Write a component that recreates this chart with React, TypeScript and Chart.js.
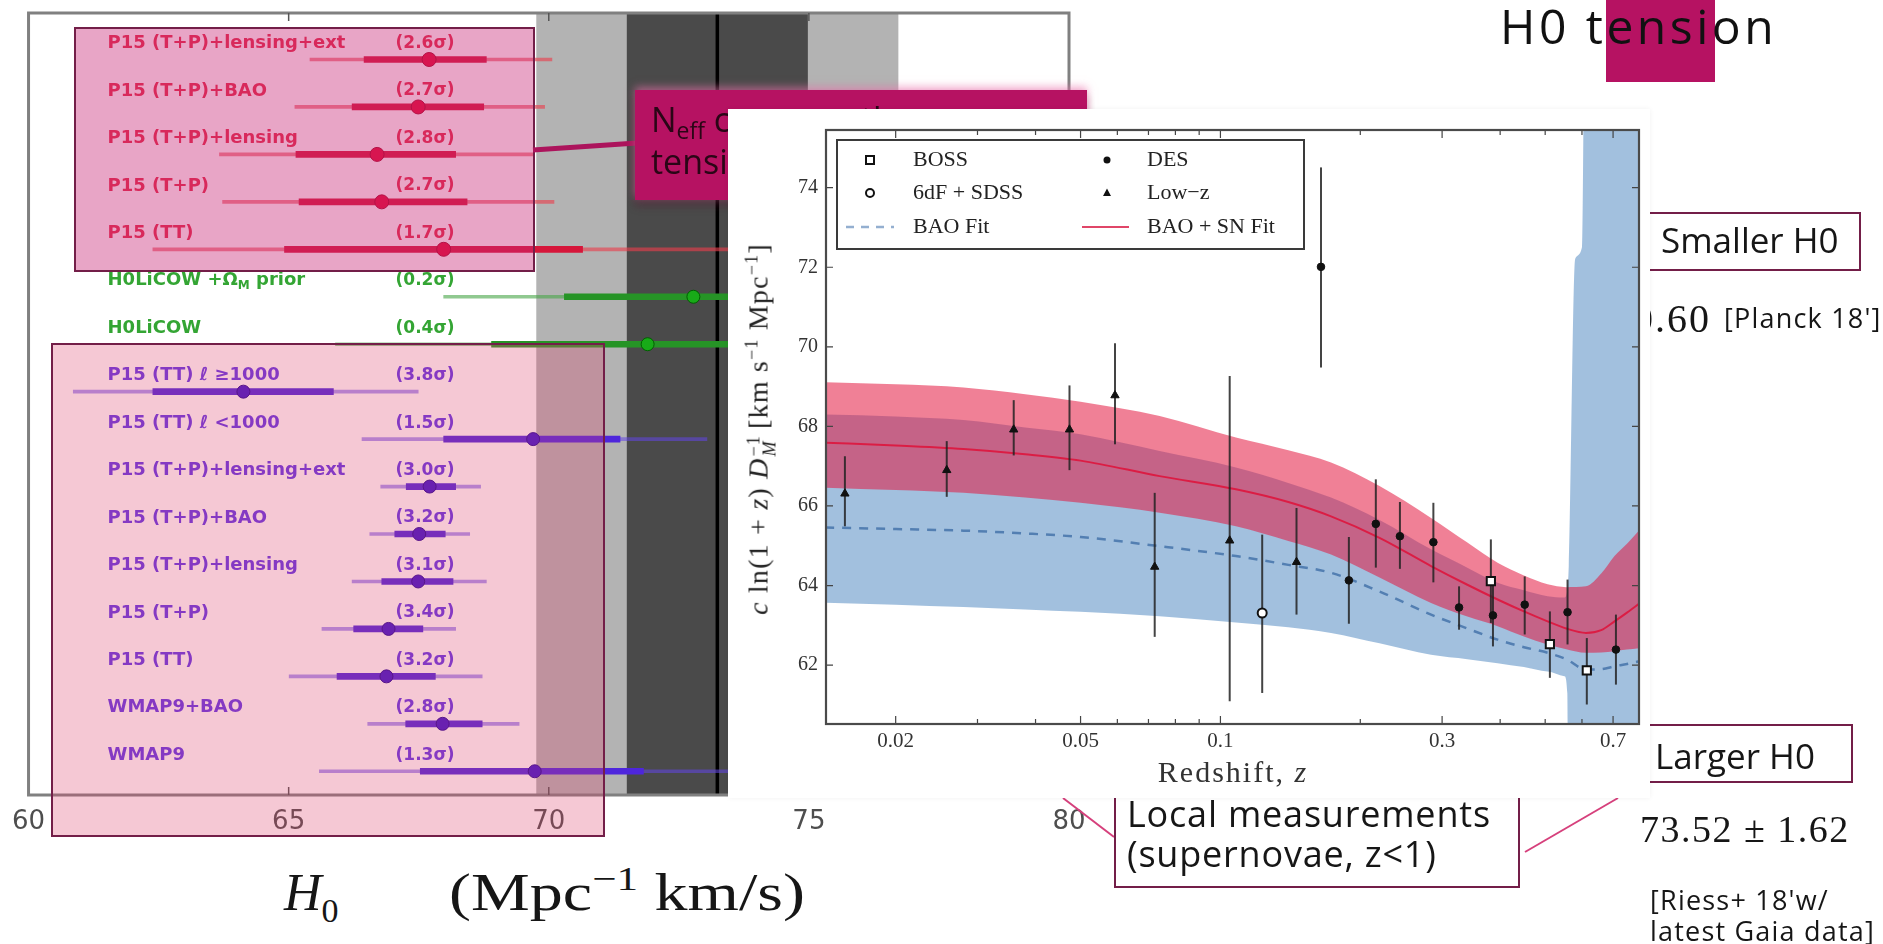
import React, { useEffect, useRef } from 'react';
import { Chart, registerables } from 'chart.js';

Chart.register(...registerables);

/* ================= Left panel: H0 measurements ================= */
const ROW_LABELS = [
  'P15 (T+P)+lensing+ext', 'P15 (T+P)+BAO', 'P15 (T+P)+lensing', 'P15 (T+P)', 'P15 (TT)',
  'H0LiCOW +Ω_M prior', 'H0LiCOW',
  'P15 (TT) ℓ ≥1000', 'P15 (TT) ℓ <1000', 'P15 (T+P)+lensing+ext', 'P15 (T+P)+BAO',
  'P15 (T+P)+lensing', 'P15 (T+P)', 'P15 (TT)', 'WMAP9+BAO', 'WMAP9',
];
const ROW_TENSION = ['(2.6σ)', '(2.7σ)', '(2.8σ)', '(2.7σ)', '(1.7σ)', '(0.2σ)', '(0.4σ)', '(3.8σ)',
  '(1.5σ)', '(3.0σ)', '(3.2σ)', '(3.1σ)', '(3.4σ)', '(3.2σ)', '(2.8σ)', '(1.3σ)'];
const ROW_GROUP = ['red', 'red', 'red', 'red', 'red', 'green', 'green',
  'blue', 'blue', 'blue', 'blue', 'blue', 'blue', 'blue', 'blue', 'blue'];
const ROW_POSITION = [15.5, 14.5, 13.5, 12.5, 11.5, 10.5, 9.5, 8.5, 7.5, 6.5, 5.5, 4.5, 3.5, 2.5, 1.5, 0.5];
const ROW_CENTER = [67.70, 67.49, 66.70, 66.79, 67.98, 72.78, 71.90, 64.13, 69.70, 67.71, 67.51, 67.49, 66.92, 66.88, 67.96, 69.73];
const ROW_INNER_LO = [66.45, 66.22, 65.14, 65.20, 64.92, 70.30, 68.90, 62.39, 67.98, 67.26, 67.04, 66.79, 66.25, 65.93, 67.25, 67.53];
const ROW_INNER_HI = [68.80, 68.75, 68.21, 68.43, 70.65, 75.00, 74.90, 65.86, 71.37, 68.21, 68.01, 68.16, 67.58, 67.82, 68.72, 71.82];
const ROW_OUTER_LO = [65.41, 65.12, 63.67, 63.73, 62.39, 67.98, 65.90, 60.86, 66.41, 66.77, 66.56, 66.22, 65.64, 65.01, 66.52, 65.59];
const ROW_OUTER_HI = [70.06, 69.92, 69.72, 70.10, 73.60, 77.60, 77.90, 67.49, 73.04, 68.69, 68.48, 68.80, 68.21, 68.72, 69.43, 74.00];
const H0_TICKS = [60, 65, 70, 75, 80];
const LOCAL_H0 = [73.24];
const LOCAL_H0_SIGMA = [1.74];

/* ================= Right panel: inverse distance ladder ================= */
const FIT_Z = [0.0141, 0.02, 0.028, 0.038, 0.05, 0.074, 0.108, 0.14, 0.173, 0.22, 0.284, 0.34, 0.395, 0.45, 0.506, 0.555, 0.612, 0.66, 0.705, 0.75, 0.8];
const SN_FIT = [67.59, 67.52, 67.43, 67.30, 67.14, 66.75, 66.42, 66.10, 65.74, 65.20, 64.49, 64.02, 63.65, 63.35, 63.10, 62.92, 62.81, 62.88, 63.10, 63.32, 63.56];
const SN_FIT_HI = [69.11, 69.06, 68.98, 68.81, 68.62, 68.26, 67.72, 67.40, 67.09, 66.50, 65.70, 65.08, 64.57, 64.25, 64.03, 63.96, 63.98, 64.30, 64.74, 65.05, 65.41];
const SN_FIT_LO = [66.46, 66.40, 66.33, 66.21, 66.08, 65.83, 65.49, 65.12, 64.78, 64.20, 63.56, 63.22, 62.98, 62.72, 62.52, 62.40, 62.31, 62.32, 62.35, 62.39, 62.43];
const BAO_FIT = [65.46, 65.42, 65.38, 65.31, 65.22, 64.99, 64.74, 64.52, 64.32, 63.85, 63.27, 62.92, 62.64, 62.45, 62.31, 62.15, 61.89, 61.90, 61.97, 62.03, 62.10];
const BAO_BAND_Z = [0.0141, 0.02, 0.028, 0.038, 0.05, 0.074, 0.108, 0.14, 0.173, 0.22, 0.284, 0.34, 0.395, 0.45, 0.506, 0.55, 0.558, 0.562, 0.58, 0.60, 0.61, 0.70, 0.80];
const BAO_BAND_HI = [68.30, 68.25, 68.16, 67.97, 67.80, 67.38, 66.97, 66.58, 66.21, 65.65, 64.91, 64.45, 64.07, 63.88, 63.73, 63.70, 63.90, 64.50, 72.20, 72.50, 80, 80, 80];
const BAO_BAND_LO = [63.57, 63.52, 63.46, 63.40, 63.34, 63.23, 63.07, 62.95, 62.81, 62.55, 62.26, 62.15, 62.05, 61.95, 61.84, 61.72, 61.30, 55, 55, 55, 55, 55, 55];

const LOWZ_Z = [0.01555, 0.02576, 0.0359, 0.04733, 0.0593, 0.0722, 0.1047, 0.1458];
const LOWZ_V = [66.31, 66.90, 67.92, 67.92, 68.78, 64.47, 65.13, 64.59];
const LOWZ_HI = [67.25, 67.63, 68.66, 69.03, 70.09, 66.33, 69.27, 65.95];
const LOWZ_LO = [65.49, 66.23, 67.27, 66.90, 67.55, 62.71, 61.09, 63.27];
const DES_Z = [0.1646, 0.189, 0.216, 0.2434, 0.2873, 0.3263, 0.386, 0.4518, 0.5586, 0.710];
const DES_V = [72.01, 64.13, 65.55, 65.24, 65.09, 63.45, 63.25, 63.52, 63.33, 62.39];
const DES_HI = [74.51, 65.22, 66.67, 66.10, 66.08, 63.98, 64.05, 64.23, 64.15, 63.27];
const DES_LO = [69.48, 63.04, 64.45, 64.42, 64.08, 62.89, 62.47, 62.77, 62.52, 61.51];
const BOSS_Z = [0.382, 0.5118, 0.6146];
const BOSS_V = [64.11, 62.53, 61.87];
const BOSS_HI = [65.16, 63.35, 62.68];
const BOSS_LO = [63.06, 61.68, 61.01];
const SDSS_Z = [0.123];
const SDSS_V = [63.31];
const SDSS_HI = [65.28];
const SDSS_LO = [61.30];

const Z_TICKS = [0.02, 0.03, 0.04, 0.05, 0.06, 0.07, 0.08, 0.09, 0.1, 0.2, 0.3, 0.4, 0.5, 0.6, 0.7];
const Z_TICK_LABELS = ['0.02', '', '', '0.05', '', '', '', '', '0.1', '', '0.3', '', '', '', '0.7'];
const Y_TICKS = [62, 64, 66, 68, 70, 72, 74];

/* ================= styles ================= */
const SANS = '"Open Sans", "DejaVu Sans", sans-serif';
const SERIF = '"Liberation Serif", "DejaVu Serif", serif';
const GROUP_COLORS: Record<string, any> = {
  red: { text: 'rgb(228,42,72)', thin: 'rgba(234,62,76,0.62)', thick: 'rgb(214,22,58)', dot: 'rgb(226,8,52)', edge: 'rgb(165,0,35)' },
  green: { text: 'rgb(52,165,52)', thin: 'rgba(70,165,70,0.6)', thick: 'rgb(38,148,38)', dot: 'rgb(24,170,24)', edge: 'rgb(0,95,0)' },
  blue: { text: 'rgb(98,54,232)', thin: 'rgba(98,70,232,0.55)', thick: 'rgb(78,38,220)', dot: 'rgb(58,20,205)', edge: 'rgb(35,5,150)' },
};
const MAGENTA = 'rgb(182,18,98)';
const BOX_BORDER = 'rgb(115,30,72)';

const pts = (xs: number[], ys: number[]) => xs.map((x, i) => ({ x, y: ys[i] }));

/* ---------------- Left chart plugins ---------------- */
const leftBands = {
  id: 'leftBands',
  beforeDatasetsDraw(chart: any) {
    const { ctx, chartArea: a, scales } = chart;
    const x = scales.x;
    const c = LOCAL_H0[0];
    const s = LOCAL_H0_SIGMA[0];
    const px = (v: number) => x.getPixelForValue(v);
    ctx.save();
    ctx.fillStyle = '#b3b3b3';
    ctx.fillRect(px(c - 2 * s), a.top, px(c + 2 * s) - px(c - 2 * s), a.bottom - a.top);
    ctx.fillStyle = '#4a4a4a';
    ctx.fillRect(px(c - s), a.top, px(c + s) - px(c - s), a.bottom - a.top);
    ctx.strokeStyle = '#000';
    ctx.lineWidth = 3.5;
    ctx.beginPath();
    ctx.moveTo(px(c), a.top);
    ctx.lineTo(px(c), a.bottom);
    ctx.stroke();
    ctx.restore();
  },
};

function drawRich(ctx: CanvasRenderingContext2D, text: string, x: number, y: number, size: number) {
  const parts = text.split(/(_.)/);
  let cx = x;
  for (const p of parts) {
    if (!p) continue;
    if (p.length === 2 && p[0] === '_') {
      ctx.font = `bold ${Math.round(size * 0.68)}px "DejaVu Sans"`;
      ctx.fillText(p[1], cx, y + size * 0.3);
      cx += ctx.measureText(p[1]).width;
    } else {
      ctx.font = `bold ${size}px "DejaVu Sans"`;
      ctx.fillText(p, cx, y);
      cx += ctx.measureText(p).width;
    }
  }
}

const leftDecor = {
  id: 'leftDecor',
  afterDatasetsDraw(chart: any) {
    const { ctx, chartArea: a, scales } = chart;
    const x = scales.x;
    const y = scales.y;
    ctx.save();
    ctx.textBaseline = 'middle';
    ROW_LABELS.forEach((lab, i) => {
      const yy = y.getPixelForValue(ROW_POSITION[i]) - 16;
      ctx.fillStyle = GROUP_COLORS[ROW_GROUP[i]].text;
      drawRich(ctx, lab, a.left + 79, yy, 18);
      ctx.font = 'bold 17px "DejaVu Sans"';
      ctx.fillText(ROW_TENSION[i], a.left + 367, yy);
    });
    ctx.strokeStyle = '#808080';
    ctx.lineWidth = 3;
    ctx.strokeRect(a.left, a.top, a.right - a.left, a.bottom - a.top);
    ctx.strokeStyle = '#555';
    ctx.lineWidth = 1.5;
    H0_TICKS.slice(1, -1).forEach((v) => {
      const px = x.getPixelForValue(v);
      ctx.beginPath();
      ctx.moveTo(px, a.top);
      ctx.lineTo(px, a.top + 8);
      ctx.moveTo(px, a.bottom);
      ctx.lineTo(px, a.bottom - 8);
      ctx.stroke();
    });
    ctx.restore();
  },
};

function LeftChart() {
  const ref = useRef<HTMLCanvasElement>(null);
  useEffect(() => {
    const canvas = ref.current as HTMLCanvasElement;
    const idx = ROW_LABELS.map((_, i) => i);
    const col = (k: string) => idx.map((i) => GROUP_COLORS[ROW_GROUP[i]][k]);
    const chart = new Chart(canvas, {
      type: 'bar',
      data: {
        datasets: [
          {
            type: 'bar', indexAxis: 'y', grouped: false, barThickness: 3, maxBarThickness: 3,
            data: idx.map((i) => ({ x: [ROW_OUTER_LO[i], ROW_OUTER_HI[i]], y: ROW_POSITION[i] })),
            backgroundColor: col('thin'), borderWidth: 0, order: 3,
          } as any,
          {
            type: 'bar', indexAxis: 'y', grouped: false, barThickness: 6, maxBarThickness: 6,
            data: idx.map((i) => ({ x: [ROW_INNER_LO[i], ROW_INNER_HI[i]], y: ROW_POSITION[i] })),
            backgroundColor: col('thick'), borderWidth: 0, order: 2,
          } as any,
          {
            type: 'scatter',
            data: idx.map((i) => ({ x: ROW_CENTER[i], y: ROW_POSITION[i] })),
            backgroundColor: col('dot'), borderColor: col('edge'), borderWidth: 1,
            pointRadius: idx.map((i) => (ROW_GROUP[i] === 'red' ? 7 : 6.5)), order: 1,
          } as any,
        ],
      },
      options: {
        responsive: false, animation: false, devicePixelRatio: 1, events: [],
        layout: { padding: { left: 25, top: 13, right: 41, bottom: 0 } },
        plugins: { legend: { display: false }, tooltip: { enabled: false } },
        scales: {
          x: {
            type: 'linear', min: 60, max: 80, offset: false,
            afterBuildTicks: (s: any) => { s.ticks = H0_TICKS.map((v) => ({ value: v })); },
            afterFit: (s: any) => { s.height = 43; },
            grid: { display: false, drawTicks: false, offset: false }, border: { display: false },
            ticks: { font: { family: 'DejaVu Sans', size: 26 }, color: '#4e4e4e', padding: 12, maxRotation: 0, autoSkip: false },
          },
          y: { type: 'linear', min: 0, max: 16.48, display: false, offset: false, grid: { offset: false } },
        },
      } as any,
      plugins: [leftBands, leftDecor],
    });
    return () => chart.destroy();
  }, []);
  return <canvas ref={ref} width={1110} height={838} style={{ position: 'absolute', left: 0, top: 0, width: 1110, height: 838, zIndex: 1 }} />;
}

/* ---------------- Right chart plugins ---------------- */
const ERR_SERIES = [
  [LOWZ_Z, LOWZ_LO, LOWZ_HI], [DES_Z, DES_LO, DES_HI], [BOSS_Z, BOSS_LO, BOSS_HI], [SDSS_Z, SDSS_LO, SDSS_HI],
];
const SOLID_FIT_INDEX = 5;

const errorBars = {
  id: 'errorBars',
  afterDatasetDraw(chart: any, args: any) {
    if (args.index !== SOLID_FIT_INDEX) return;
    const { ctx, scales } = chart;
    ctx.save();
    ctx.strokeStyle = 'rgba(35,35,35,0.85)';
    ctx.lineWidth = 2;
    ERR_SERIES.forEach(([zs, lo, hi]) => {
      zs.forEach((z, i) => {
        const px = scales.x.getPixelForValue(z);
        ctx.beginPath();
        ctx.moveTo(px, scales.y.getPixelForValue(lo[i]));
        ctx.lineTo(px, scales.y.getPixelForValue(hi[i]));
        ctx.stroke();
      });
    });
    ctx.restore();
  },
};

const baoFrame = {
  id: 'baoFrame',
  afterDatasetsDraw(chart: any) {
    const { ctx, chartArea: a, scales } = chart;
    ctx.save();
    ctx.strokeStyle = '#444';
    ctx.lineWidth = 1.2;
    Z_TICKS.forEach((v, i) => {
      const px = scales.x.getPixelForValue(v);
      const len = Z_TICK_LABELS[i] ? 8 : 5;
      ctx.beginPath();
      ctx.moveTo(px, a.bottom); ctx.lineTo(px, a.bottom - len);
      ctx.moveTo(px, a.top); ctx.lineTo(px, a.top + len);
      ctx.stroke();
    });
    Y_TICKS.forEach((v) => {
      const py = scales.y.getPixelForValue(v);
      ctx.beginPath();
      ctx.moveTo(a.left, py); ctx.lineTo(a.left + 7, py);
      ctx.moveTo(a.right, py); ctx.lineTo(a.right - 7, py);
      ctx.stroke();
    });
    ctx.strokeStyle = '#4a4a4a';
    ctx.lineWidth = 2.2;
    ctx.strokeRect(a.left, a.top, a.right - a.left, a.bottom - a.top);
    ctx.restore();
  },
};

const baoLegend = {
  id: 'baoLegend',
  afterDraw(chart: any) {
    const ctx = chart.ctx as CanvasRenderingContext2D;
    const L = 109, T = 31, W = 467, H = 109;
    ctx.save();
    ctx.fillStyle = '#fff';
    ctx.fillRect(L, T, W, H);
    ctx.strokeStyle = '#3a3a3a';
    ctx.lineWidth = 2;
    ctx.strokeRect(L, T, W, H);
    const r1 = T + 20, r2 = T + 53, r3 = T + 87;
    const mx1 = L + 33, mx2 = L + 270, tx1 = L + 76, tx2 = L + 310;
    ctx.fillStyle = '#fff';
    ctx.strokeStyle = '#111';
    ctx.lineWidth = 2;
    ctx.fillRect(mx1 - 4, r1 - 4, 8, 8); ctx.strokeRect(mx1 - 4, r1 - 4, 8, 8);
    ctx.beginPath(); ctx.arc(mx1, r2, 4, 0, Math.PI * 2); ctx.fill(); ctx.stroke();
    ctx.fillStyle = '#111';
    ctx.beginPath(); ctx.arc(mx2, r1, 3.5, 0, Math.PI * 2); ctx.fill();
    ctx.beginPath(); ctx.moveTo(mx2, r2 - 4.5); ctx.lineTo(mx2 + 4, r2 + 3); ctx.lineTo(mx2 - 4, r2 + 3); ctx.closePath(); ctx.fill();
    ctx.strokeStyle = 'rgba(60,110,170,0.55)';
    ctx.lineWidth = 2.5;
    ctx.setLineDash([8, 7]);
    ctx.beginPath(); ctx.moveTo(L + 9, r3); ctx.lineTo(L + 57, r3); ctx.stroke();
    ctx.setLineDash([]);
    ctx.strokeStyle = 'rgb(224,70,104)';
    ctx.lineWidth = 2;
    ctx.beginPath(); ctx.moveTo(L + 245, r3); ctx.lineTo(L + 292, r3); ctx.stroke();
    ctx.fillStyle = '#222';
    ctx.font = '22px "Liberation Serif"';
    ctx.textBaseline = 'middle';
    ctx.fillText('BOSS', tx1, r1);
    ctx.fillText('6dF + SDSS', tx1, r2);
    ctx.fillText('BAO Fit', tx1, r3);
    ctx.fillText('DES', tx2, r1);
    ctx.fillText('Low−z', tx2, r2);
    ctx.fillText('BAO + SN Fit', tx2, r3);
    ctx.restore();
  },
};

function BaoChart() {
  const ref = useRef<HTMLCanvasElement>(null);
  useEffect(() => {
    const canvas = ref.current as HTMLCanvasElement;
    const band = { pointRadius: 0, borderWidth: 0, borderColor: 'rgba(0,0,0,0)', cubicInterpolationMode: 'monotone' };
    const chart = new Chart(canvas, {
      type: 'line',
      data: {
        datasets: [
          { ...band, data: pts(BAO_BAND_Z, BAO_BAND_HI), fill: '+1', backgroundColor: 'rgba(70,130,190,0.5)', order: 10 },
          { ...band, data: pts(BAO_BAND_Z, BAO_BAND_LO), fill: false, order: 9 },
          { ...band, data: pts(FIT_Z, SN_FIT_HI), fill: '+1', backgroundColor: 'rgba(228,24,64,0.55)', order: 8 },
          { ...band, data: pts(FIT_Z, SN_FIT_LO), fill: false, order: 7 },
          { label: 'BAO Fit', data: pts(FIT_Z, BAO_FIT), borderColor: 'rgba(50,100,160,0.7)', borderDash: [9, 8], borderWidth: 2.5, pointRadius: 0, fill: false, cubicInterpolationMode: 'monotone', order: 6 },
          { label: 'BAO + SN Fit', data: pts(FIT_Z, SN_FIT), borderColor: 'rgba(222,22,62,0.9)', borderWidth: 2, pointRadius: 0, fill: false, cubicInterpolationMode: 'monotone', order: 5 },
          { type: 'scatter', label: 'Low−z', data: pts(LOWZ_Z, LOWZ_V), pointStyle: 'triangle', pointRadius: 4.8, backgroundColor: '#111', borderColor: '#111', borderWidth: 1, order: 3 },
          { type: 'scatter', label: 'DES', data: pts(DES_Z, DES_V), pointStyle: 'circle', pointRadius: 3.8, backgroundColor: '#111', borderColor: '#111', borderWidth: 1, order: 2 },
          { type: 'scatter', label: 'BOSS', data: pts(BOSS_Z, BOSS_V), pointStyle: 'rect', pointRadius: 5.8, backgroundColor: '#fff', borderColor: '#111', borderWidth: 2, order: 1 },
          { type: 'scatter', label: '6dF + SDSS', data: pts(SDSS_Z, SDSS_V), pointStyle: 'circle', pointRadius: 4.5, backgroundColor: '#fff', borderColor: '#111', borderWidth: 2, order: 0 },
        ] as any,
      },
      options: {
        responsive: false, animation: false, devicePixelRatio: 1, events: [],
        layout: { padding: { left: 0, top: 21, right: 11, bottom: 0 } },
        plugins: { legend: { display: false }, tooltip: { enabled: false } },
        scales: {
          x: {
            type: 'logarithmic', min: 0.01416, max: 0.796,
            afterBuildTicks: (s: any) => { s.ticks = Z_TICKS.map((v) => ({ value: v })); },
            afterFit: (s: any) => { s.height = 74; },
            grid: { display: false, drawTicks: false }, border: { display: false },
            ticks: {
              autoSkip: false, maxRotation: 0, padding: 5, color: '#333',
              font: { family: 'Liberation Serif', size: 21 },
              callback: (_v: any, i: number) => Z_TICK_LABELS[i],
            },
          },
          y: {
            type: 'linear', min: 60.52, max: 75.45,
            afterBuildTicks: (s: any) => { s.ticks = Y_TICKS.map((v) => ({ value: v })); },
            afterFit: (s: any) => { s.width = 98; },
            grid: { display: false, drawTicks: false }, border: { display: false },
            ticks: { padding: 8, color: '#333', font: { family: 'Liberation Serif', size: 20 } },
          },
        },
      } as any,
      plugins: [errorBars, baoFrame, baoLegend],
    });
    return () => chart.destroy();
  }, []);
  return <canvas ref={ref} width={922} height={689} style={{ position: 'absolute', left: 0, top: 0, width: 922, height: 689 }} />;
}

/* ---------------- text helpers ---------------- */
const CAP: Record<string, number> = { sans: 0.531, serif: 0.5065 };
function Label({ x, right, cy, size, font = 'sans', children, style = {} }: any) {
  const top = cy - CAP[font] * size;
  const pos = right !== undefined ? { right: 1883 - right } : { left: x };
  return (
    <div style={{
      position: 'absolute', ...pos, top, fontFamily: font === 'sans' ? SANS : SERIF, fontSize: size,
      lineHeight: `${size}px`, whiteSpace: 'nowrap', color: '#161616', zIndex: 4, ...style,
    }}>{children}</div>
  );
}

function Box({ l, t, w, h, style = {} }: any) {
  return <div style={{ position: 'absolute', left: l, top: t, width: w, height: h, boxSizing: 'border-box', ...style }} />;
}

export default function App() {
  return (
    <div style={{ position: 'absolute', left: 0, top: 0, width: 1883, height: 944, overflow: 'hidden', background: '#fff' }}>
      <LeftChart />

      {/* highlight boxes over the whisker plot */}
      <Box l={74} t={27} w={461} h={245} style={{ background: 'rgba(200,40,120,0.42)', border: `2px solid ${BOX_BORDER}`, zIndex: 2 }} />
      <Box l={51} t={343} w={554} h={494} style={{ background: 'rgba(220,67,108,0.29)', border: `2px solid ${BOX_BORDER}`, zIndex: 2 }} />

      {/* left axis title */}
      <Label x={284} cy={893} size={52} font="serif" style={{ zIndex: 2 }}>
        <i>H</i><span style={{ fontSize: 34, position: 'relative', top: 12 }}>0</span>
      </Label>
      <Label x={449} cy={893} size={52} font="serif" style={{ zIndex: 2, transform: 'scaleX(1.27)', transformOrigin: 'left center' }}>
        (Mpc<span style={{ fontSize: 34, position: 'relative', top: -20 }}>−1</span> km/s)
      </Label>

      {/* callout lines */}
      <svg width={1883} height={944} style={{ position: 'absolute', left: 0, top: 0, zIndex: 3, pointerEvents: 'none' }}>
        <line x1={533} y1={150} x2={637} y2={143} stroke="rgb(172,20,92)" strokeWidth={5} />
        <line x1={1063} y1={798} x2={1114} y2={837} stroke="rgb(214,64,124)" strokeWidth={2} />
        <line x1={1618} y1={798} x2={1525} y2={852} stroke="rgb(214,64,124)" strokeWidth={2} />
      </svg>
      <Box l={635} t={90} w={452} h={110} style={{ background: MAGENTA, zIndex: 3, boxShadow: '0 -3px 8px rgba(235,110,170,0.6), 0 6px 8px rgba(90,20,50,0.35)' }} />
      <Label x={651} cy={120} size={34} style={{ zIndex: 3, color: '#2a0616' }}>
        N<span style={{ fontSize: 23, position: 'relative', top: 7 }}>eff</span> can ease the
      </Label>
      <Label x={651} cy={162} size={34} style={{ zIndex: 3, color: '#2a0616' }}>tension</Label>

      {/* title */}
      <Box l={1606} t={0} w={109} h={82} style={{ background: MAGENTA, zIndex: 3 }} />
      <Label x={1500} cy={27} size={48} style={{ letterSpacing: 3.5, color: '#111' }}>H0 tension</Label>

      {/* right annotations */}
      <Box l={1640} t={212} w={221} h={59} style={{ border: `2px solid ${BOX_BORDER}`, zIndex: 4 }} />
      <Label x={1661} cy={241} size={35}>Smaller H0</Label>
      <Label right={1711} cy={319} size={40} font="serif" style={{ letterSpacing: 2 }}>67.66 ± 0.60</Label>
      <Label x={1724} cy={318} size={27} style={{ letterSpacing: 1.2 }}>[Planck 18']</Label>

      <Box l={1640} t={724} w={213} h={59} style={{ border: `2px solid ${BOX_BORDER}`, zIndex: 4 }} />
      <Label x={1655} cy={757} size={35}>Larger H0</Label>
      <Label x={1640} cy={829} size={38} font="serif" style={{ letterSpacing: 1.5 }}>73.52 ± 1.62</Label>
      <Label x={1650} cy={900} size={27} style={{ letterSpacing: 1.2 }}>[Riess+ 18'w/</Label>
      <Label x={1650} cy={931} size={27} style={{ letterSpacing: 1.2 }}>latest Gaia data]</Label>

      <Box l={1114} t={780} w={406} h={108} style={{ border: `2px solid ${BOX_BORDER}`, zIndex: 4 }} />
      <Label x={1127} cy={815} size={36} style={{ letterSpacing: 0.8 }}>Local measurements</Label>
      <Label x={1127} cy={855} size={36} style={{ letterSpacing: 0.8 }}>(supernovae, z&lt;1)</Label>

      {/* BAO figure panel */}
      <div style={{ position: 'absolute', left: 728, top: 109, width: 922, height: 689, background: '#fff', zIndex: 5, boxShadow: '0 0 5px rgba(0,0,0,0.06)' }}>
        <BaoChart />
      </div>
      <div style={{
        position: 'absolute', left: 760, top: 429, transform: 'translate(-50%,-50%) rotate(-90deg)', whiteSpace: 'nowrap',
        fontFamily: SERIF, fontSize: 28, letterSpacing: 1.2, color: '#222', zIndex: 6, lineHeight: '32px',
      }}>
        <i>c</i> ln(1 + <i>z</i>) <i>D</i>
        <span style={{ display: 'inline-flex', flexDirection: 'column', verticalAlign: 'middle', fontSize: 18, lineHeight: '16px', marginLeft: 1, marginRight: 6 }}>
          <span>−1</span><i>M</i>
        </span>
        [km s<span style={{ fontSize: 18, position: 'relative', top: -10 }}>−1</span> Mpc<span style={{ fontSize: 18, position: 'relative', top: -10 }}>−1</span>]
      </div>
      <Label x={1233} cy={772} size={30} font="serif" style={{ zIndex: 6, transform: 'translateX(-50%)', letterSpacing: 2, color: '#333' }}>
        Redshift, <i>z</i>
      </Label>
    </div>
  );
}
